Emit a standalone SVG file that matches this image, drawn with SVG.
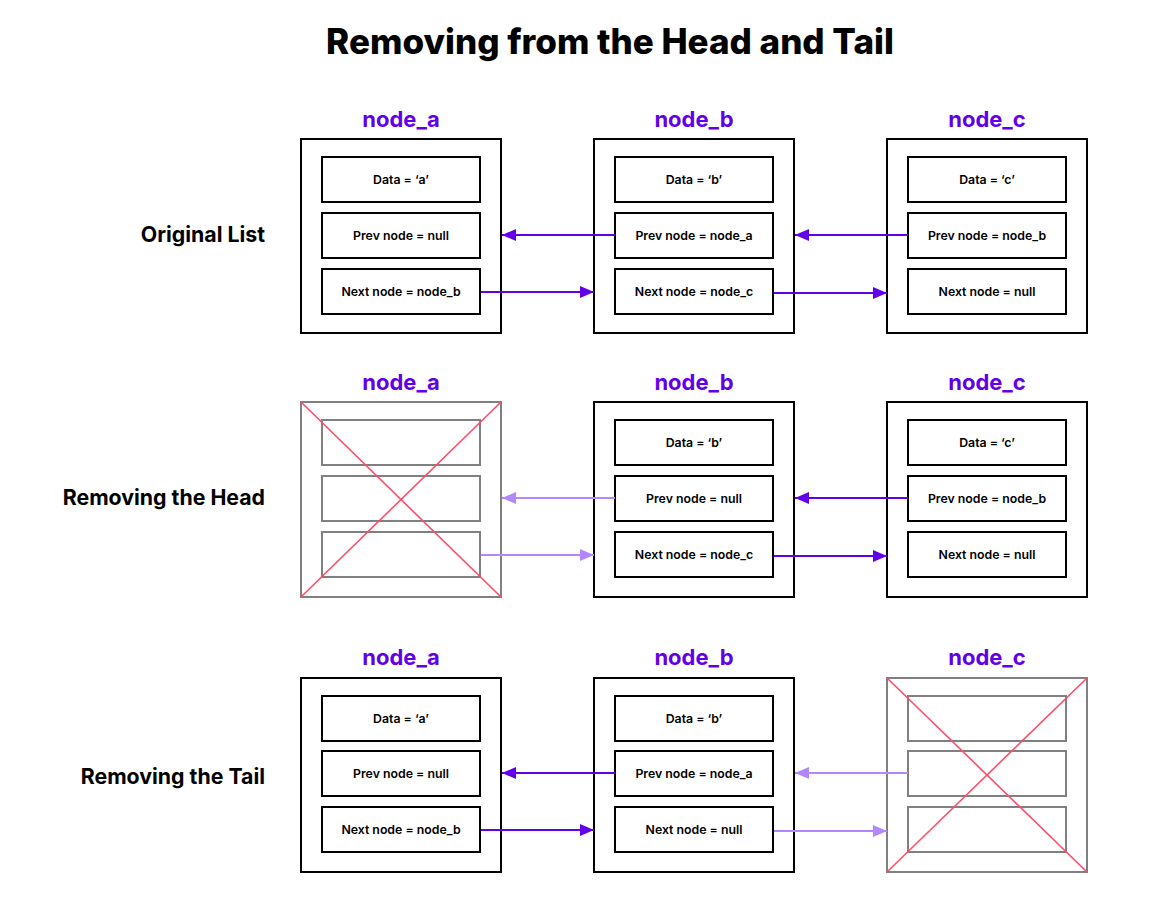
<svg xmlns="http://www.w3.org/2000/svg" width="1176" height="914" viewBox="0 0 1176 914">
<defs>
<style>
.outer{fill:#fff;stroke:#000;stroke-width:2}
.inner{fill:#fff;stroke:#000;stroke-width:2}
.gout{fill:#fff;stroke:#808080;stroke-width:2}
.gin{fill:none;stroke:#808080;stroke-width:2}
.x{stroke:#ff4d67;stroke-width:1.6}
.lbl{font-family:Inter,"Liberation Sans",sans-serif;font-weight:bold;font-size:22px;fill:#6200ea;text-anchor:middle}
.t{font-family:Inter,"Liberation Sans",sans-serif;font-weight:600;font-size:12.3px;fill:#000;text-anchor:middle}
.sec{font-family:Inter,"Liberation Sans",sans-serif;font-weight:bold;font-size:21.3px;fill:#000;text-anchor:end}
.title{font-family:Inter,"Liberation Sans",sans-serif;font-weight:800;font-size:35px;fill:#000;text-anchor:middle}
.a{stroke:#6200ea;stroke-width:2;fill:none}
.al{stroke:#b388ff;stroke-width:2;fill:none}
</style>
<marker id="m" markerWidth="14" markerHeight="12" refX="14" refY="6" orient="auto" markerUnits="userSpaceOnUse"><path d="M0,0 L14,6 L0,12 Z" fill="#6200ea"/></marker>
<marker id="ml" markerWidth="14" markerHeight="12" refX="14" refY="6" orient="auto" markerUnits="userSpaceOnUse"><path d="M0,0 L14,6 L0,12 Z" fill="#b388ff"/></marker>
</defs>
<rect width="1176" height="914" fill="#fff"/>
<text class="title" x="610" y="54">Removing from the Head and Tail</text>
<text class="sec" x="265" y="242">Original List</text>
<text class="sec" x="265" y="505">Removing the Head</text>
<text class="sec" x="265" y="784">Removing the Tail</text>

<g id="r1_node_a">
<text class="lbl" x="401" y="127">node_a</text>
<rect class="outer" x="301" y="139" width="200" height="194"/>
<rect class="inner" x="322" y="157" width="158" height="45"/>
<rect class="inner" x="322" y="213" width="158" height="45"/>
<rect class="inner" x="322" y="269" width="158" height="45"/>
<text class="t" x="401" y="184">Data = ‘a’</text>
<text class="t" x="401" y="240">Prev node = null</text>
<text class="t" x="401" y="296">Next node = node_b</text>
</g>
<g id="r1_node_b">
<text class="lbl" x="694" y="127">node_b</text>
<rect class="outer" x="594" y="139" width="200" height="194"/>
<rect class="inner" x="615" y="157" width="158" height="45"/>
<rect class="inner" x="615" y="213" width="158" height="45"/>
<rect class="inner" x="615" y="269" width="158" height="45"/>
<text class="t" x="694" y="184">Data = ‘b’</text>
<text class="t" x="694" y="240">Prev node = node_a</text>
<text class="t" x="694" y="296">Next node = node_c</text>
</g>
<g id="r1_node_c">
<text class="lbl" x="987" y="127">node_c</text>
<rect class="outer" x="887" y="139" width="200" height="194"/>
<rect class="inner" x="908" y="157" width="158" height="45"/>
<rect class="inner" x="908" y="213" width="158" height="45"/>
<rect class="inner" x="908" y="269" width="158" height="45"/>
<text class="t" x="987" y="184">Data = ‘c’</text>
<text class="t" x="987" y="240">Prev node = node_b</text>
<text class="t" x="987" y="296">Next node = null</text>
</g>

<g id="r2_node_a">
<text class="lbl" x="401" y="390">node_a</text>
<rect class="gout" x="301" y="402" width="200" height="195"/>
<rect class="gin" x="322" y="420" width="158" height="45"/>
<rect class="gin" x="322" y="476" width="158" height="45"/>
<rect class="gin" x="322" y="532" width="158" height="45"/>
<line class="x" x1="301" y1="402" x2="501" y2="597"/>
<line class="x" x1="501" y1="402" x2="301" y2="597"/>
</g>
<g id="r2_node_b">
<text class="lbl" x="694" y="390">node_b</text>
<rect class="outer" x="594" y="402" width="200" height="195"/>
<rect class="inner" x="615" y="420" width="158" height="45"/>
<rect class="inner" x="615" y="476" width="158" height="45"/>
<rect class="inner" x="615" y="532" width="158" height="45"/>
<text class="t" x="694" y="447">Data = ‘b’</text>
<text class="t" x="694" y="503">Prev node = null</text>
<text class="t" x="694" y="559">Next node = node_c</text>
</g>
<g id="r2_node_c">
<text class="lbl" x="987" y="390">node_c</text>
<rect class="outer" x="887" y="402" width="200" height="195"/>
<rect class="inner" x="908" y="420" width="158" height="45"/>
<rect class="inner" x="908" y="476" width="158" height="45"/>
<rect class="inner" x="908" y="532" width="158" height="45"/>
<text class="t" x="987" y="447">Data = ‘c’</text>
<text class="t" x="987" y="503">Prev node = node_b</text>
<text class="t" x="987" y="559">Next node = null</text>
</g>

<g id="r3_node_a">
<text class="lbl" x="401" y="665">node_a</text>
<rect class="outer" x="301" y="678" width="200" height="194"/>
<rect class="inner" x="322" y="696" width="158" height="45"/>
<rect class="inner" x="322" y="751" width="158" height="45"/>
<rect class="inner" x="322" y="807" width="158" height="45"/>
<text class="t" x="401" y="723">Data = ‘a’</text>
<text class="t" x="401" y="778">Prev node = null</text>
<text class="t" x="401" y="834">Next node = node_b</text>
</g>
<g id="r3_node_b">
<text class="lbl" x="694" y="665">node_b</text>
<rect class="outer" x="594" y="678" width="200" height="194"/>
<rect class="inner" x="615" y="696" width="158" height="45"/>
<rect class="inner" x="615" y="751" width="158" height="45"/>
<rect class="inner" x="615" y="807" width="158" height="45"/>
<text class="t" x="694" y="723">Data = ‘b’</text>
<text class="t" x="694" y="778">Prev node = node_a</text>
<text class="t" x="694" y="834">Next node = null</text>
</g>
<g id="r3_node_c">
<text class="lbl" x="987" y="665">node_c</text>
<rect class="gout" x="887" y="678" width="200" height="194"/>
<rect class="gin" x="908" y="696" width="158" height="45"/>
<rect class="gin" x="908" y="751" width="158" height="45"/>
<rect class="gin" x="908" y="807" width="158" height="45"/>
<line class="x" x1="887" y1="678" x2="1087" y2="872"/>
<line class="x" x1="1087" y1="678" x2="887" y2="872"/>
</g>

<g id="connectors">
<line class="a" x1="615" y1="235" x2="502" y2="235" marker-end="url(#m)"/>
<line class="a" x1="481" y1="292" x2="594" y2="292" marker-end="url(#m)"/>
<line class="a" x1="908" y1="235" x2="795" y2="235" marker-end="url(#m)"/>
<line class="a" x1="774" y1="293" x2="887" y2="293" marker-end="url(#m)"/>

<line class="al" x1="615" y1="498" x2="502" y2="498" marker-end="url(#ml)"/>
<line class="al" x1="481" y1="555" x2="594" y2="555" marker-end="url(#ml)"/>
<line class="a" x1="908" y1="498" x2="795" y2="498" marker-end="url(#m)"/>
<line class="a" x1="774" y1="556" x2="887" y2="556" marker-end="url(#m)"/>

<line class="a" x1="615" y1="773" x2="502" y2="773" marker-end="url(#m)"/>
<line class="a" x1="481" y1="830" x2="594" y2="830" marker-end="url(#m)"/>
<line class="al" x1="908" y1="773" x2="795" y2="773" marker-end="url(#ml)"/>
<line class="al" x1="774" y1="831" x2="887" y2="831" marker-end="url(#ml)"/>
</g>
</svg>
